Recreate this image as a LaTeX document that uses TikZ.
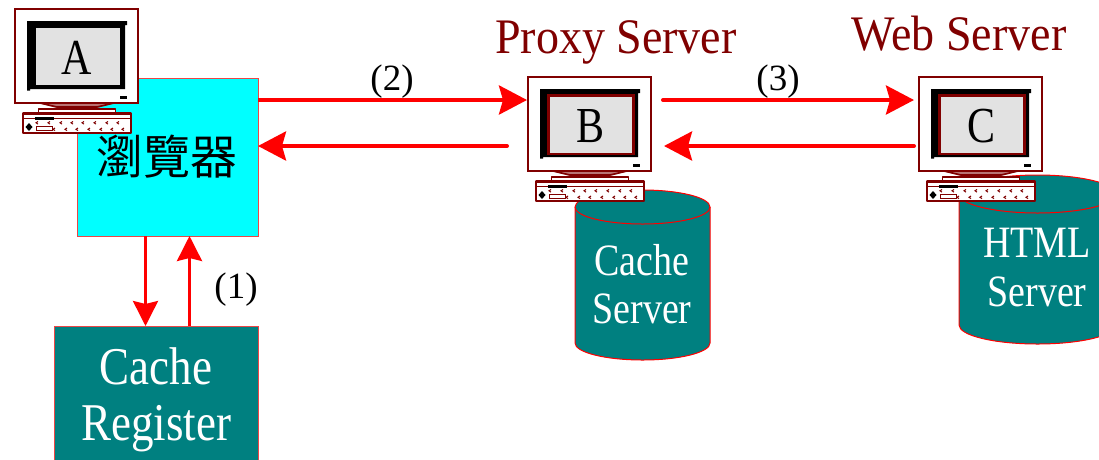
\documentclass[tikz,border=0pt]{standalone}
\usepackage{fontspec}
\usepackage{graphicx}
\setmainfont{Liberation Serif}
\newfontfamily\cjk{Noto Sans CJK TC}
\usetikzlibrary{arrows.meta,calc}
\definecolor{drd}{RGB}{128,0,0}
\definecolor{tealb}{RGB}{0,128,128}
\definecolor{greyscr}{RGB}{226,226,226}
\definecolor{aqua}{RGB}{0,255,255}
\definecolor{pinkrd}{RGB}{235,70,70}
\newcommand{\tallbox}[2]{\scalebox{1}[#1]{\begin{tabular}{@{}c@{}}#2\end{tabular}}}
\tikzset{
  x=1pt,y=-1pt,
  bigarrow/.style={red,line width=4pt,-{Stealth[length=28pt,width=29pt,inset=4pt]}},
  smallarrow/.style={red,line width=3pt,-{Stealth[length=25pt,width=25pt,inset=3pt]}},
  lbl/.style={font=\fontsize{37}{37}\selectfont,inner sep=0pt},
  whitetxt/.style={text=white,inner sep=0pt},
  title/.style={font=\fontsize{46}{46}\selectfont,text=drd,inner sep=0pt},
  edge/.style={draw=drd,line width=2.4pt,line join=round},
  cyl/.style={fill=tealb,draw=red,line width=1pt},
  monitorbox/.style={draw=drd,line width=2.6pt,fill=white,minimum width=123pt,minimum height=94pt,inner sep=0pt,outer sep=1pt},
  chev/.style={draw=drd,line width=1pt},
}
% #1 = name prefix, #2 = offset x, #3 = offset y, #4 = letter, #5 = screen-frame colour, #6 = frame width
\newcommand{\computer}[6]{%
\begin{scope}[shift={(#2,#3)}]
  % stand
  \fill[drd!55!white] (38,103) -- (116,103) -- (97,108) -- (57,108) -- cycle;
  \draw[edge,line width=1.6pt] (40,103) -- (57,107) -- (97,107) -- (114,103);
  \draw[edge,line width=1.8pt,fill=white] (38.5,113) -- (38.5,109) -- (115.5,109) -- (115.5,113);
  % monitor
  \node[monitorbox] (#1mon) at (76.5,56) {};
  \fill[black] (27,21) -- (127,21) -- (127,25) -- (125,25) -- (125,89) -- (30,89) -- (30,90.5) -- (27,90.5) -- cycle;
  \draw[#5,line width=#6,fill=greyscr] (35.5,27.5) rectangle (120.5,86);
  \fill[black] (120,96) rectangle (127,98.5);
  \node[inner sep=0pt,font=\fontsize{42}{42}\selectfont] (#1let) at (77,58) {\scalebox{1}[1.2]{#4}};
  % keyboard
  \draw[edge,fill=white] (23,113.5) rectangle (131,133);
  \draw[drd,line width=1pt] (23,118.5) -- (131,118.5);
  \fill[black] (34.5,116.5) rectangle (54,119.5);
  \fill[black] (29,123) -- (32.5,127) -- (29,131) -- (25.5,127) -- cycle;
  \draw[drd,line width=.9pt] (36.5,126.5) rectangle (52.5,130);
  \foreach \kx in {37,49,61,72,83,95,107,118} \draw[chev] (\kx+1,121.5) -- (\kx-1,122.8) -- (\kx+1,124.1);
  \foreach \kx in {54,66,77,89,101,112,123} \draw[chev] (\kx+1,128) -- (\kx-1,129.3) -- (\kx+1,130.6);
\end{scope}}
% cylinder #1 name, #2 left, #3 right, #4 rim centre y, #5 rim half-height, #6 bottom centre y
\newcommand{\cylinder}[6]{%
  \path[cyl] (#2,#4) arc[start angle=180,end angle=360,x radius={(#3-#2)/2},y radius=#5]
     -- (#3,#6) arc[start angle=0,end angle=180,x radius={(#3-#2)/2},y radius=#5] -- cycle;
  \draw[red,line width=1pt] (#2,#4) arc[start angle=180,end angle=0,x radius={(#3-#2)/2},y radius=#5];
  \coordinate (#1) at ({(#2+#3)/2},{(#4+#6)/2});
}
\begin{document}
\begin{tikzpicture}
\useasboundingbox (0,0) rectangle (1099,459);
\fill[white] (0,0) rectangle (1099,459);

\node[draw=pinkrd,line width=1pt,fill=aqua,minimum width=181pt,minimum height=158pt,inner sep=0pt,outer sep=0pt] (browser) at (167.5,157) {};
\node[font=\fontsize{47}{47}\cjk,inner sep=0pt] (browsertxt) at (167,157) {瀏覽器};

\node[fill=tealb,draw=pinkrd,line width=1pt,minimum width=204pt,minimum height=134pt,inner sep=0pt,outer sep=0pt] (reg) at (156,393) {};
\node[whitetxt,font=\fontsize{45}{48}\selectfont] (regtxt) at (156,401) {\tallbox{1.18}{Cache\\Register}};

\cylinder{cacheS}{575}{710}{207}{17}{343}
\node[whitetxt,font=\fontsize{38}{41}\selectfont] (cachetxt) at (642,290) {\tallbox{1.18}{Cache\\Server}};
\cylinder{htmlS}{959}{1116}{194}{19}{325}
\node[whitetxt,font=\fontsize{38}{41.5}\selectfont] (htmltxt) at (1037,272.5) {\tallbox{1.18}{HTML\\Server}};

\computer{A}{0}{0}{A}{black}{1.2pt}
\computer{B}{513}{68}{B}{drd}{2.8pt}
\computer{C}{904}{68}{C}{drd}{2.8pt}

\node[title,anchor=base] (proxy) at (616,53) {\scalebox{1}[1.08]{Proxy Server}};
\node[title,anchor=base] (web) at (959,50) {\scalebox{1}[1.08]{Web Server}};

\coordinate (bTop) at ($(browser.east)+(0,-57)$);
\coordinate (bBot) at ($(browser.east)+(0,-11)$);
\draw[bigarrow] (bTop) -- (Bmon.west |- bTop);
\draw[bigarrow,line cap=round] ($(Bmon.west |- bBot)+(-20,0)$) -- (bBot);
\coordinate (bmid) at ($(Bmon.east |- bTop)+(11,0)$);
\draw[bigarrow,line cap=round] (bmid) -- ($(Cmon.west |- bTop)+(-4,0)$);
\draw[bigarrow,line cap=round] ($(Cmon.west |- bBot)+(-4,0)$) -- ($(Bmon.east |- bBot)+(12,0)$);

\coordinate (dn) at ($(browser.south)+(-22,0)$);
\coordinate (up) at ($(browser.south)+(22,0)$);
\draw[smallarrow] (dn) -- (dn |- reg.north);
\draw[smallarrow] (up |- reg.north) -- (up);

\node[lbl] (l1) at (236,290) {(1)};
\node[lbl] (l2) at (392,82) {(2)};
\node[lbl] (l3) at (778,82) {(3)};
\end{tikzpicture}
\end{document}
